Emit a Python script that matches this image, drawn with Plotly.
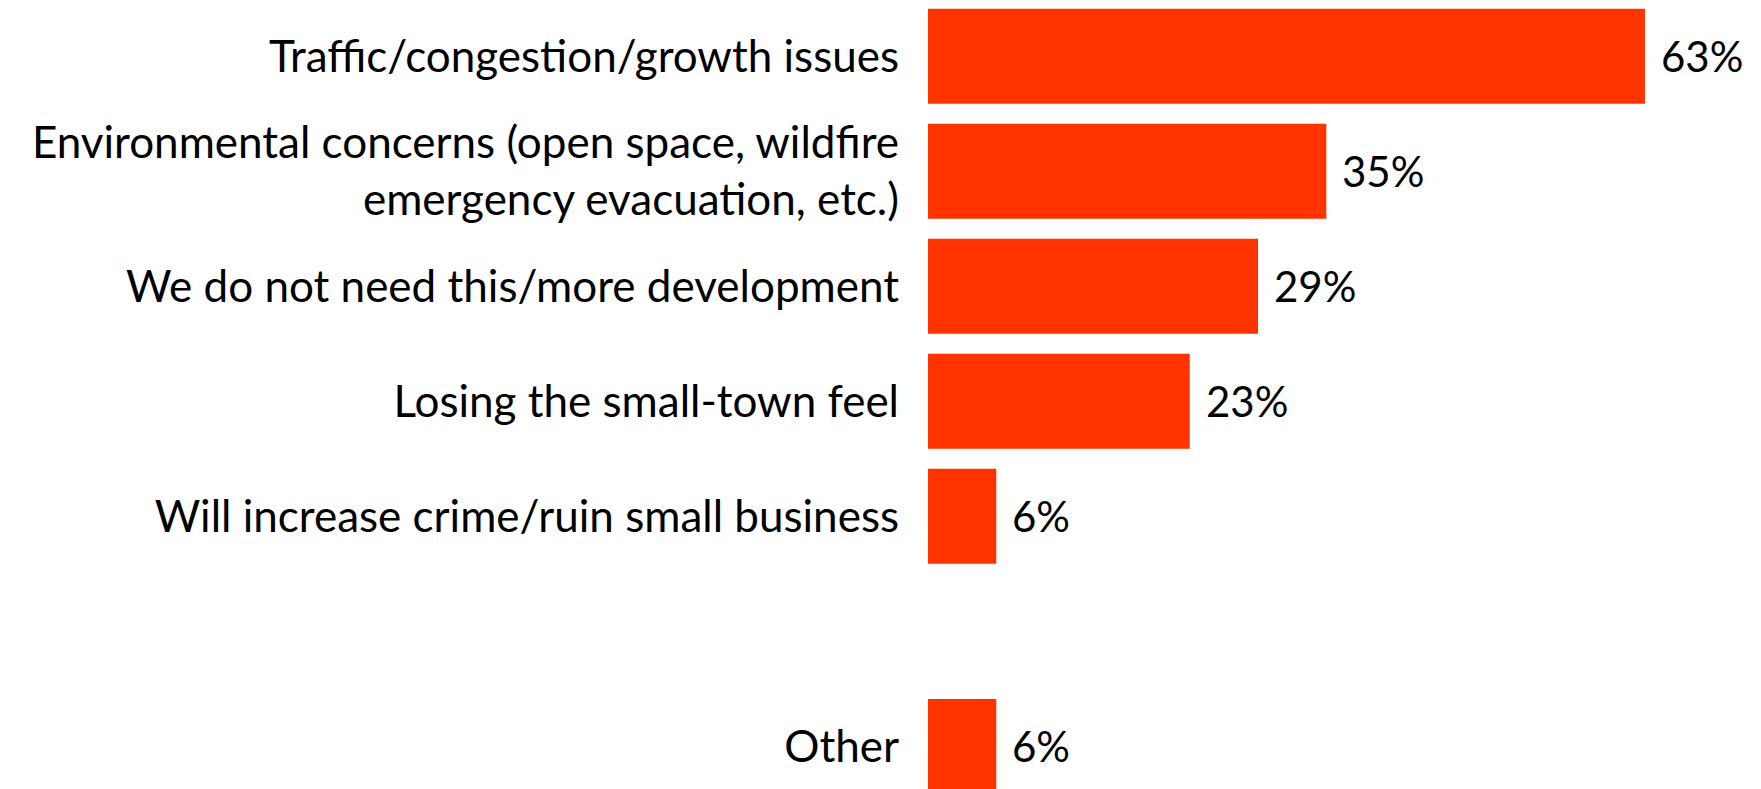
import plotly.graph_objects as go

categories = [
    "Traffic/congestion/growth issues",
    "Environmental concerns (open space, wildfire<br>emergency evacuation, etc.)",
    "We do not need this/more development",
    "Losing the small-town feel",
    "Will increase crime/ruin small business",
    " ",
    "Other",
]
values = [63, 35, 29, 23, 6, None, 6]
labels = ["63%", "35%", "29%", "23%", "6%", "", "6%"]

BAR_COLOR = "#FF3300"
FONT = "Lato, 'Open Sans', sans-serif"

fig = go.Figure()
fig.add_trace(go.Bar(
    y=categories,
    x=values,
    orientation="h",
    marker=dict(color=BAR_COLOR, line=dict(width=0)),
    hoverinfo="skip",
))

for c, v, t in zip(categories, values, labels):
    if v is None:
        continue
    fig.add_annotation(
        x=v, y=c, text=t, showarrow=False,
        xanchor="left", yanchor="middle", xshift=14,
        font=dict(family=FONT, size=42, color="#000000"),
    )

fig.update_layout(
    width=1761, height=789,
    margin=dict(l=920, r=0, t=0, b=0),
    paper_bgcolor="white", plot_bgcolor="white",
    bargap=0.174,
    showlegend=False,
    font=dict(family=FONT, size=44, color="#000000"),
    xaxis=dict(visible=False, range=[0, 73.9]),
    yaxis=dict(
        type="category",
        categoryorder="array", categoryarray=categories,
        range=[6.44, -0.42],
        showgrid=False, showline=False, zeroline=False,
        ticks="", ticklabelstandoff=28,
        tickfont=dict(family=FONT, size=44, color="#000000"),
    ),
)

fig.write_html("out.html")
